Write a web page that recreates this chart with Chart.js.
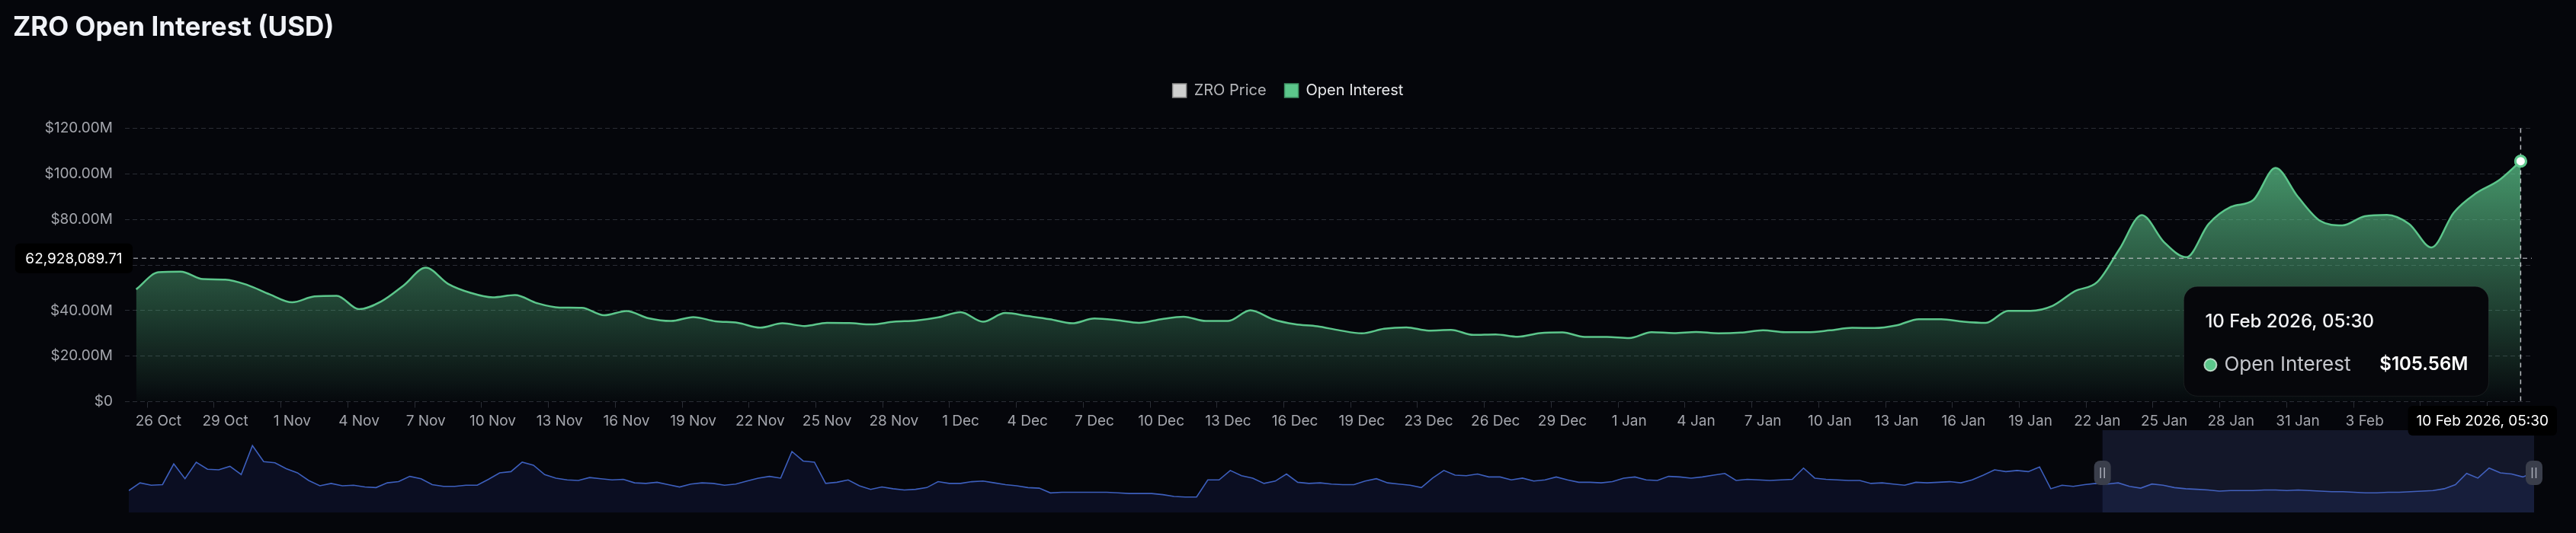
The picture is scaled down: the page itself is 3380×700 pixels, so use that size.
<!DOCTYPE html>
<html>
<head>
<meta charset="utf-8">
<script src="https://cdn.jsdelivr.net/npm/chart.js@4.4.1/dist/chart.umd.min.js"></script>
<style>
  html, body { margin: 0; padding: 0; background: #05060b; }
  #wrap { position: relative; width: 3380px; height: 700px; }
  #wrap canvas { position: absolute; left: 0; top: 0; }
</style>
</head>
<body>
<div id="wrap">
  <canvas id="navChart" width="3380" height="700"></canvas>
  <canvas id="oiChart" width="3380" height="700"></canvas>
</div>
<script>
// x-axis labels, one every 3 samples
const tickLabels = ['26 Oct', '29 Oct', '1 Nov', '4 Nov', '7 Nov', '10 Nov', '13 Nov', '16 Nov', '19 Nov',
  '22 Nov', '25 Nov', '28 Nov', '1 Dec', '4 Dec', '7 Dec', '10 Dec', '13 Dec', '16 Dec', '19 Dec', '23 Dec',
  '26 Dec', '29 Dec', '1 Jan', '4 Jan', '7 Jan', '10 Jan', '13 Jan', '16 Jan', '19 Jan', '22 Jan', '25 Jan',
  '28 Jan', '31 Jan', '3 Feb'];

// Open interest in USD millions, one sample per day (25 Oct -> 10 Feb)
const oiMillions = [
  49.3, 56.8, 57.1, 53.8, 53.6, 51.2, 47.1, 43.6, 46.2, 46.5,
  40.6, 44.0, 51.0, 58.8, 51.7, 47.8, 45.8, 46.8, 43.2, 41.3,
  41.2, 37.9, 39.8, 36.6, 35.4, 37.1, 35.3, 34.6, 32.5, 34.4,
  33.2, 34.6, 34.5, 33.9, 35.1, 35.6, 37.0, 39.3, 35.1, 38.9,
  37.6, 36.2, 34.4, 36.5, 35.8, 34.6, 36.2, 37.3, 35.4, 35.4,
  40.1, 36.2, 34.0, 33.1, 31.3, 30.0, 32.0, 32.6, 31.2, 31.5,
  29.3, 29.5, 28.5, 30.1, 30.4, 28.4, 28.4, 27.9, 30.5, 30.1,
  30.6, 30.0, 30.3, 31.3, 30.5, 30.5, 31.3, 32.4, 32.3, 33.5,
  36.2, 36.2, 35.1, 34.6, 39.9, 39.9, 42.1, 48.5, 52.5, 67.0,
  81.9, 70.0, 63.4, 78.0, 85.5, 88.5, 102.6, 90.0, 79.4, 77.4,
  81.4, 82.0, 78.0, 67.7, 83.0, 91.5, 97.0, 105.56
];

// ZRO price (USD), two samples per day, shown in the zoom strip
const zroPrice = [
  1.32, 1.45, 1.41, 1.42, 1.77, 1.52, 1.80, 1.68, 1.67, 1.73,
  1.59, 2.08, 1.81, 1.79, 1.69, 1.62, 1.49, 1.40, 1.44, 1.40,
  1.41, 1.38, 1.37, 1.45, 1.47, 1.56, 1.52, 1.42, 1.39, 1.39,
  1.41, 1.41, 1.51, 1.62, 1.64, 1.80, 1.75, 1.59, 1.53, 1.50,
  1.49, 1.54, 1.52, 1.50, 1.51, 1.45, 1.44, 1.46, 1.42, 1.38,
  1.43, 1.45, 1.44, 1.41, 1.43, 1.48, 1.53, 1.56, 1.53, 1.98,
  1.82, 1.80, 1.44, 1.46, 1.50, 1.40, 1.34, 1.38, 1.35, 1.33,
  1.34, 1.37, 1.47, 1.44, 1.44, 1.47, 1.48, 1.45, 1.42, 1.40,
  1.37, 1.36, 1.28, 1.29, 1.29, 1.29, 1.29, 1.29, 1.28, 1.27,
  1.27, 1.27, 1.25, 1.22, 1.21, 1.21, 1.50, 1.50, 1.66, 1.57,
  1.53, 1.44, 1.48, 1.60, 1.46, 1.44, 1.45, 1.43, 1.42, 1.42,
  1.48, 1.52, 1.45, 1.43, 1.41, 1.37, 1.53, 1.66, 1.58, 1.57,
  1.60, 1.55, 1.55, 1.50, 1.53, 1.48, 1.50, 1.55, 1.50, 1.46,
  1.46, 1.45, 1.47, 1.53, 1.55, 1.50, 1.49, 1.56, 1.55, 1.53,
  1.55, 1.58, 1.61, 1.49, 1.51, 1.50, 1.49, 1.50, 1.51, 1.70,
  1.53, 1.51, 1.50, 1.49, 1.49, 1.44, 1.45, 1.43, 1.41, 1.46,
  1.45, 1.46, 1.47, 1.45, 1.50, 1.58, 1.67, 1.64, 1.66, 1.64,
  1.72, 1.35, 1.41, 1.39, 1.42, 1.44, 1.43, 1.45, 1.39, 1.36,
  1.43, 1.41, 1.37, 1.35, 1.34, 1.33, 1.31, 1.32, 1.32, 1.32,
  1.33, 1.33, 1.32, 1.33, 1.32, 1.31, 1.30, 1.30, 1.29, 1.28,
  1.28, 1.29, 1.29, 1.30, 1.31, 1.32, 1.35, 1.42, 1.61, 1.53,
  1.70, 1.62, 1.60, 1.55, 1.63
];

const seriesNames = ['ZRO Price', 'Open Interest'];
const hoverTime = '10 Feb 2026, 05:30';
const crosshairUsd = 62928089.71;
const zoomWindow = [87.8, 107];   // selected range in the zoom strip (days)

const green = '#5cc68b';
const gridColor = '#2a2d35';
const axisText = '#a4a6ad';
const axisFont = { family: 'Inter', size: 19 };

function rrect(ctx, x, y, w, h, r) {
  ctx.beginPath();
  ctx.roundRect(x, y, w, h, r);
}

// crosshair, axis pointer labels and tooltip for the last sample
const hoverPlugin = {
  id: 'hover',
  afterDatasetsDraw(chart) {
    const { ctx, chartArea: a, scales: { x, y } } = chart;
    const last = oiMillions.length - 1;
    const px = x.getPixelForValue(last);
    const cy = y.getPixelForValue(crosshairUsd / 1e6);
    ctx.save();
    ctx.setLineDash([6, 5]);
    ctx.lineWidth = 1.5;
    ctx.strokeStyle = 'rgba(200,202,208,0.7)';
    ctx.beginPath(); ctx.moveTo(a.left, cy); ctx.lineTo(a.right, cy); ctx.stroke();
    ctx.strokeStyle = 'rgba(215,217,222,0.85)';
    ctx.beginPath(); ctx.moveTo(px, a.top); ctx.lineTo(px, a.bottom); ctx.stroke();
    ctx.restore();
    chart.getDatasetMeta(0).data[last].draw(ctx, a);
  },
  afterDraw(chart) {
    const { ctx, chartArea: a, scales: { x, y } } = chart;
    const last = oiMillions.length - 1;
    const px = x.getPixelForValue(last);
    const cy = y.getPixelForValue(crosshairUsd / 1e6);
    ctx.save();
    ctx.textBaseline = 'middle';

    // y pointer label
    ctx.font = '19px Inter';
    const yTxt = crosshairUsd.toLocaleString('en-US', { minimumFractionDigits: 2, maximumFractionDigits: 2 });
    const yw = ctx.measureText(yTxt).width + 27;
    ctx.fillStyle = '#000';
    rrect(ctx, a.left + 10 - yw, cy - 19.5, yw, 39, 6); ctx.fill();
    ctx.fillStyle = '#fff';
    ctx.textAlign = 'center';
    ctx.fillText(yTxt, a.left + 10 - yw / 2, cy + 1);

    // x pointer label
    const xw = ctx.measureText(hoverTime).width + 22;
    let bx = px - xw / 2;
    if (bx + xw > chart.width - 25) bx = chart.width - 25 - xw;
    ctx.fillStyle = '#000';
    rrect(ctx, bx, a.bottom + 5.5, xw, 39, 6); ctx.fill();
    ctx.fillStyle = '#fff';
    ctx.fillText(hoverTime, bx + xw / 2, a.bottom + 26);

    // tooltip
    const tw = 400, th = 144;
    const tr = px - 42, tt = cy + 37, tl = tr - tw;
    ctx.fillStyle = '#06070b';
    ctx.strokeStyle = 'rgba(255,255,255,0.07)';
    ctx.lineWidth = 1;
    rrect(ctx, tl, tt, tw, th, 18); ctx.fill(); ctx.stroke();
    ctx.textAlign = 'left';
    ctx.fillStyle = '#f2f3f5';
    ctx.font = '500 24px Inter';
    ctx.fillText(hoverTime, tl + 28, tt + 47);
    ctx.beginPath();
    ctx.arc(tl + 35, tt + 103, 8, 0, Math.PI * 2);
    ctx.fillStyle = green; ctx.fill();
    ctx.strokeStyle = 'rgba(225,245,232,0.75)'; ctx.lineWidth = 2; ctx.stroke();
    ctx.fillStyle = '#c6c8ce';
    ctx.font = '400 26px Inter';
    ctx.fillText(seriesNames[1], tl + 53, tt + 103);
    ctx.textAlign = 'right';
    ctx.fillStyle = '#ffffff';
    ctx.font = '600 24px Inter';
    ctx.fillText('$' + oiMillions[last].toFixed(2) + 'M', tr - 27, tt + 103);
    ctx.restore();
  }
};

new Chart(document.getElementById('oiChart'), {
  type: 'line',
  data: {
    datasets: [{
      label: seriesNames[1],
      data: oiMillions.map((v, i) => ({ x: i, y: v })),
      borderColor: green,
      borderWidth: 2.5,
      cubicInterpolationMode: 'monotone',
      fill: 'origin',
      backgroundColor: (c) => {
        const { ctx, chartArea } = c.chart;
        if (!chartArea) return null;
        const g = ctx.createLinearGradient(0, chartArea.top, 0, chartArea.bottom);
        g.addColorStop(0, 'rgba(92,198,139,0.85)');
        g.addColorStop(1, 'rgba(92,198,139,0.02)');
        return g;
      },
      pointRadius: (c) => c.dataIndex === oiMillions.length - 1 ? 7 : 0,
      pointBackgroundColor: '#ffffff',
      pointBorderColor: green,
      pointBorderWidth: 3
    }]
  },
  options: {
    responsive: false,
    animation: false,
    events: [],
    devicePixelRatio: 1,
    layout: { padding: { left: 17, right: 17, top: 0, bottom: 132.5 } },
    plugins: {
      title: {
        display: true,
        text: 'ZRO Open Interest (USD)',
        align: 'start',
        color: '#f0f2f7',
        font: { family: 'Inter', size: 35, weight: 'bold' },
        padding: { top: 15, bottom: 28 }
      },
      legend: {
        display: true,
        position: 'top',
        labels: {
          boxWidth: 18,
          boxHeight: 18,
          padding: 24,
          font: { family: 'Inter', size: 20 },
          generateLabels: () => seriesNames.map((name, i) => ({
            text: name,
            fillStyle: i === 0 ? '#cfcfcf' : green,
            strokeStyle: i === 0 ? '#8d8d8d' : '#3f9465',
            lineWidth: 1.5,
            fontColor: i === 0 ? '#b3b4b8' : '#e8e9ec',
            hidden: false,
            datasetIndex: i
          }))
        }
      },
      tooltip: { enabled: false }
    },
    scales: {
      x: {
        type: 'linear',
        min: -0.5,
        max: oiMillions.length - 0.5,
        afterBuildTicks: (s) => {
          const t = [];
          for (let v = 0.5; v < s.max; v += 3) t.push({ value: v });
          s.ticks = t;
        },
        afterFit: (s) => { s.height = 40; },
        grid: { drawOnChartArea: false, drawTicks: true, tickLength: 8, color: gridColor },
        border: { display: false },
        ticks: {
          callback: (v, i) => tickLabels[i] || '',
          autoSkip: false,
          maxRotation: 0,
          labelOffset: 14.6,
          padding: 6,
          color: axisText,
          font: axisFont
        }
      },
      xTop: {
        type: 'linear',
        position: 'top',
        afterFit: (s) => { s.height = 29.5; },
        grid: { display: false },
        border: { display: false },
        ticks: { display: false }
      },
      y: {
        position: 'left',
        min: 0,
        max: 120,
        afterFit: (s) => { s.width = 147; },
        grid: { color: gridColor, drawTicks: false },
        border: { display: false, dash: [6, 4] },
        ticks: {
          stepSize: 20,
          padding: 16,
          color: axisText,
          font: axisFont,
          callback: (v) => v === 0 ? '$0' : '$' + v.toFixed(2) + 'M'
        }
      },
      yRight: {
        type: 'linear',
        position: 'right',
        afterFit: (s) => { s.width = 41; },
        grid: { display: false },
        border: { display: false },
        ticks: { display: false }
      }
    }
  },
  plugins: [hoverPlugin]
});

// zoom strip with the price series and the selected window
const pMin = Math.min(...zroPrice), pMax = Math.max(...zroPrice);
const pPad = (pMax - pMin) * 0.3;

const navPlugin = {
  id: 'navWindow',
  afterDraw(chart) {
    const { ctx, chartArea: a, scales: { x } } = chart;
    const x0 = x.getPixelForValue(zoomWindow[0]);
    const x1 = x.getPixelForValue(zoomWindow[1]);
    ctx.save();
    ctx.fillStyle = 'rgba(95,115,200,0.16)';
    ctx.fillRect(x0, a.top, x1 - x0, a.bottom - a.top);
    const hy = (a.top + a.bottom) / 2 + 2;
    [x0, x1].forEach((hx) => {
      ctx.fillStyle = '#3a3e4b';
      rrect(ctx, hx - 11, hy - 16, 22, 32, 8); ctx.fill();
      ctx.strokeStyle = '#a9adb8';
      ctx.lineWidth = 1.5;
      ctx.beginPath();
      ctx.moveTo(hx - 2.5, hy - 7); ctx.lineTo(hx - 2.5, hy + 7);
      ctx.moveTo(hx + 2.5, hy - 7); ctx.lineTo(hx + 2.5, hy + 7);
      ctx.stroke();
    });
    ctx.restore();
  }
};

new Chart(document.getElementById('navChart'), {
  type: 'line',
  data: {
    datasets: [{
      label: seriesNames[0],
      data: zroPrice.map((v, i) => ({ x: i / 2, y: v })),
      borderColor: '#3d5fbd',
      borderWidth: 1.6,
      tension: 0,
      pointRadius: 0,
      fill: 'start',
      backgroundColor: 'rgba(40,62,150,0.17)'
    }]
  },
  options: {
    responsive: false,
    animation: false,
    events: [],
    devicePixelRatio: 1,
    layout: { padding: { left: 169, right: 55, top: 565, bottom: 27 } },
    plugins: { legend: { display: false }, tooltip: { enabled: false } },
    scales: {
      x: { type: 'linear', display: false, min: 0, max: oiMillions.length - 1 },
      y: { display: false, min: pMin - pPad, max: pMax + pPad }
    }
  },
  plugins: [navPlugin]
});
</script>
</body>
</html>
